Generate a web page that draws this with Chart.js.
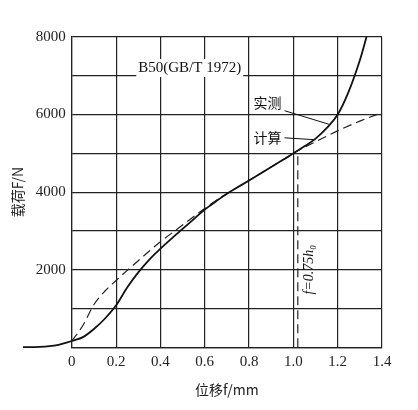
<!DOCTYPE html>
<html><head><meta charset="utf-8">
<script src="https://cdn.jsdelivr.net/npm/chart.js@4"></script>
<style>html,body{margin:0;background:#fff}#w{width:418px;height:410px}</style>
</head><body><div id="w"><canvas id="c"></canvas></div>
<script>
const tailX=[-0.22,-0.17,-0.12,-0.08,-0.04,0];
const tailY=[0,2,15,40,85,160];
const measuredX=[0,0.05,0.1,0.15,0.2,0.25,0.3,0.35,0.4,0.45,0.5,0.55,0.6,0.65,0.7,0.75,0.8,0.85,0.9,0.95,1.0,1.05,1.1,1.15,1.2,1.25,1.3,1.33];
const measuredY=[160,260,470,740,1080,1540,1930,2260,2540,2800,3050,3300,3550,3760,3960,4130,4300,4475,4650,4820,5000,5180,5380,5650,6000,6600,7400,8000];
const calcX=[0,0.05,0.1,0.15,0.2,0.25,0.3,0.35,0.4,0.5,0.6,0.7,0.8,0.9,1.0,1.1,1.2,1.3,1.4];
const calcY=[160,560,1100,1450,1720,1980,2230,2480,2720,3150,3580,3960,4300,4650,5000,5300,5580,5830,6050];
const limitX=[1.02,1.02];
const limitY=[0,5000];
const xTicks=[0,0.2,0.4,0.6,0.8,1.0,1.2,1.4];
const yTickLabels=[2000,4000,6000,8000];
const title='B50(GB/T 1972)';
const labelMeasured='实测', labelCalc='计算';
const serif='"Liberation Serif","DejaVu Serif",serif';
const cjk='"Noto Sans CJK SC",sans-serif';
const pts=(xs,ys)=>xs.map((x,i)=>({x,y:ys[i]}));
const ann={id:'ann',afterDatasetsDraw(ch){
  const c=ch.ctx,x=ch.scales.x,y=ch.scales.y;
  c.save();c.fillStyle='#111';c.strokeStyle='#111';
  c.lineWidth=1.8;c.beginPath();
  const tp=tailX.map((v,i)=>[x.getPixelForValue(v),y.getPixelForValue(tailY[i])]);
  c.moveTo(tp[0][0],tp[0][1]);
  for(let i=1;i<tp.length;i++){const mx=(tp[i-1][0]+tp[i][0])/2,my=(tp[i-1][1]+tp[i][1])/2;c.quadraticCurveTo(tp[i-1][0],tp[i-1][1],mx,my);}
  c.lineTo(tp[tp.length-1][0],tp[tp.length-1][1]);c.stroke();
  c.lineWidth=1;
  c.font='15px '+serif;c.textBaseline='middle';c.textAlign='left';
  const tx=x.getPixelForValue(0.3),ty=y.getPixelForValue(7200),tw=c.measureText(title).width;
  c.fillStyle='#fff';c.fillRect(tx-2,ty-9,tw+4,18);c.fillStyle='#111';
  c.fillText(title,tx,ty);
  c.font='14px '+cjk;
  c.fillText(labelMeasured,x.getPixelForValue(0.82),y.getPixelForValue(6300));
  c.fillText(labelCalc,x.getPixelForValue(0.82),y.getPixelForValue(5400));
  c.beginPath();c.moveTo(x.getPixelForValue(0.96),y.getPixelForValue(6100));c.lineTo(x.getPixelForValue(1.16),y.getPixelForValue(5750));
  c.moveTo(x.getPixelForValue(0.96),y.getPixelForValue(5400));c.lineTo(x.getPixelForValue(1.1),y.getPixelForValue(5350));c.stroke();
  c.translate(x.getPixelForValue(1.07),y.getPixelForValue(2000));c.rotate(-Math.PI/2);
  c.textAlign='center';c.font='italic 14px '+serif;
  c.fillText('f=0.75h₀',0,0);
  c.restore();
}};
new Chart(document.getElementById('c'),{
  type:'scatter',
  data:{datasets:[
    {data:pts(measuredX,measuredY),showLine:true,borderColor:'#111',borderWidth:1.8,pointRadius:0,cubicInterpolationMode:'monotone'},
    {data:pts(calcX,calcY),showLine:true,borderColor:'#222',borderWidth:1.2,borderDash:[9,5],pointRadius:0,cubicInterpolationMode:'monotone'},
    {data:pts(limitX,limitY),showLine:true,borderColor:'#222',borderWidth:1.2,borderDash:[9,5],pointRadius:0}
  ]},
  plugins:[ann],
  options:{responsive:true,maintainAspectRatio:false,animation:false,
    layout:{padding:{top:37,right:36,left:5,bottom:8}},
    plugins:{legend:{display:false},tooltip:{enabled:false}},
    scales:{
      x:{type:'linear',min:0,max:1.4,afterBuildTicks:a=>{a.ticks=xTicks.map(v=>({value:v}));},
        grid:{color:'#222',lineWidth:1.2,drawTicks:false},border:{color:'#222',width:1.2},
        ticks:{color:'#222',font:{family:serif,size:15},padding:6,callback:v=>v===0?'0':v.toFixed(1)},
        title:{display:true,text:'位移f/mm',color:'#222',font:{family:cjk,size:14}}},
      y:{min:0,max:8000,ticks:{stepSize:1000,color:'#222',font:{family:serif,size:15},padding:6,
          callback:v=>yTickLabels.includes(v)?String(v):''},
        grid:{color:'#222',lineWidth:1.2,drawTicks:false},border:{color:'#222',width:1.2},
        title:{display:true,text:'载荷F/N',color:'#222',font:{family:cjk,size:14}}}
    }}
});
</script></body></html>
